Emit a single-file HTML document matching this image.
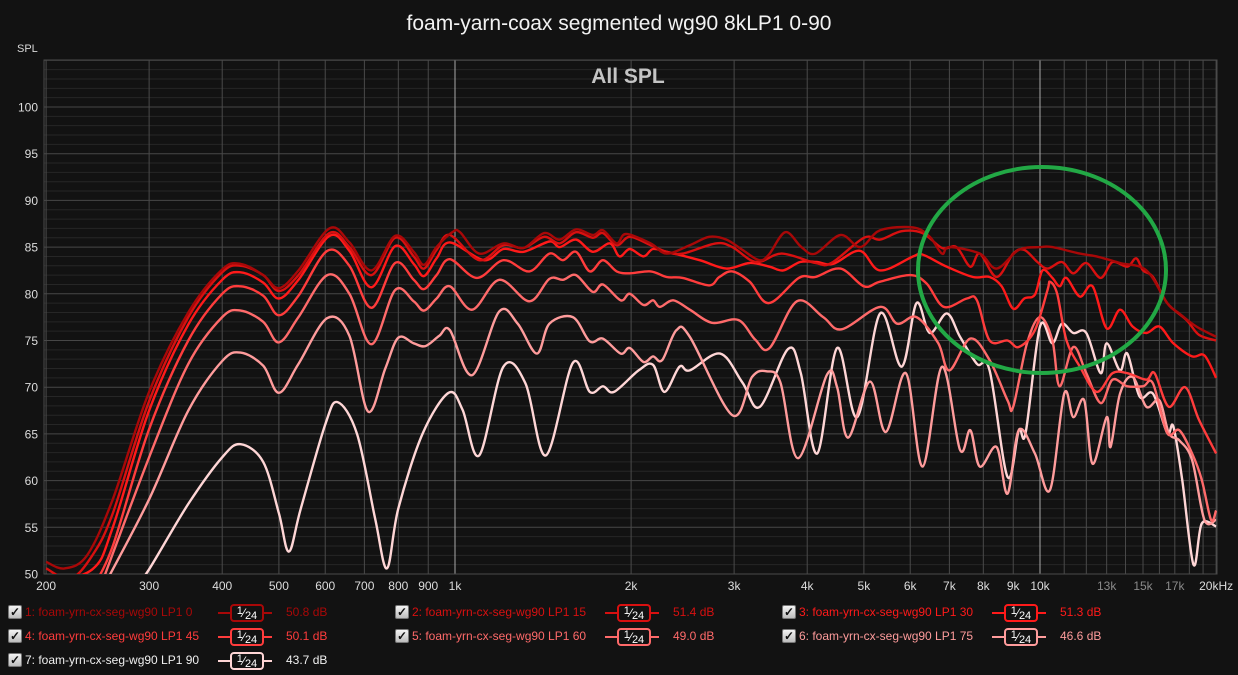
<!DOCTYPE html>
<html><head><meta charset="utf-8">
<style>
html,body{margin:0;padding:0;background:#121212;width:1238px;height:675px;overflow:hidden;font-family:"Liberation Sans",sans-serif}
svg{position:absolute;left:0;top:0}
.leg{position:absolute;font-size:12px;height:16px;line-height:16px;white-space:nowrap}
.cb{position:absolute;width:12px;height:12px;background:linear-gradient(#f4f4f4,#bdbdbd);border:1px solid #777;border-radius:2px;color:#111;font-size:12px;line-height:12px;text-align:center;font-weight:bold}
.oct{position:absolute;height:14px;width:30px;border:2px solid;border-radius:4px;background:#121212;font-size:12px;line-height:14px;text-align:center;color:#fff}
.oln{position:absolute;height:2px;width:54px}
</style></head><body>
<svg id="chart" width="1238" height="675"></svg>
<div id="legend"></div>
<script>
const xTickFreqs=[200,300,400,500,600,700,800,900,1000,2000,3000,4000,5000,6000,7000,8000,9000,10000,13000,15000,17000,20000];
const xTickLabels=["200","300","400","500","600","700","800","900","1k","2k","3k","4k","5k","6k","7k","8k","9k","10k","13k","15k","17k","20kHz"];
const yTicks=[50,55,60,65,70,75,80,85,90,95,100];
const seriesNames=["1: foam-yrn-cx-seg-wg90 LP1 0","2: foam-yrn-cx-seg-wg90 LP1 15","3: foam-yrn-cx-seg-wg90 LP1 30","4: foam-yrn-cx-seg-wg90 LP1 45","5: foam-yrn-cx-seg-wg90 LP1 60","6: foam-yrn-cx-seg-wg90 LP1 75","7: foam-yrn-cx-seg-wg90 LP1 90"];
const seriesLevels=["50.8 dB","51.4 dB","51.3 dB","50.1 dB","49.0 dB","46.6 dB","43.7 dB"];
const seriesColors=["#a80808","#d81010","#ff1a1a","#ff3c3c","#ff6a6a","#ff9c9c","#ffd6d6"];
const s1=[[200,51.3],[215,50.6],[235,52],[260,58],[300,69.5],[350,78],[400,82.6],[430,83.2],[470,82],[500,80.6],[540,82.5],[610,87],[660,85.5],[720,82.5],[790,86.2],[850,84.5],[885,83.1],[930,85],[990,86.6],[1020,86.6],[1100,84.3],[1210,85.4],[1310,84.9],[1420,86.5],[1510,85.8],[1610,86.9],[1720,86.3],[1790,86.8],[1890,85.4],[1960,86.4],[2160,85.4],[2300,84.3],[2520,85.2],[2720,86.1],[2910,85.8],[3100,84.7],[3310,83.6],[3440,84.2],[3670,86.6],[3910,85],[4130,84.3],[4560,86.3],[4930,85],[5330,86.8],[6070,87.1],[6480,86.1],[6800,84.3],[7000,85],[7890,84.3],[8430,82.7],[9200,84.7],[10000,85],[10500,85],[11700,84.3],[12500,84],[13700,83.3],[15200,82.5],[16500,79],[17300,77.9],[18500,76.5],[20000,75.4]];
const s2=[[200,50.6],[220,49.5],[240,52],[260,56.5],[300,68.5],[350,77.5],[400,82.3],[430,83],[470,82],[500,80.3],[540,82],[610,86.5],[660,85],[720,82],[790,86],[850,84],[885,82.7],[930,84.7],[980,86.3],[1100,83.6],[1210,85.2],[1310,84.9],[1420,86.1],[1510,85.4],[1610,86.6],[1720,86],[1790,86.5],[1890,85.2],[1990,86.1],[2160,85.2],[2300,84.5],[2450,84.3],[2790,85.4],[2980,85],[3270,83.4],[3620,84.3],[4130,83.3],[4400,83.3],[5000,86],[5330,85.8],[5800,86.7],[6300,86.5],[6800,84.9],[7200,85],[7600,82.9],[7890,84.3],[8430,81.8],[9000,84.3],[9400,84.7],[9900,83.4],[10300,82.7],[10900,83.4],[11400,82.2],[12000,83.3],[12700,81.7],[13300,83.4],[14100,82.9],[14600,83.8],[15000,82.5],[15600,81.8],[16500,79],[17800,77.2],[18700,75.6],[20000,75]];
const s3=[[200,49],[240,50.5],[260,55],[300,67.5],[350,76.7],[400,81.5],[430,82.3],[470,81.2],[500,79.5],[540,81.5],[610,86.2],[660,84.6],[720,80.7],[790,85.1],[850,83.2],[885,81.9],[930,83.8],[980,85.5],[1120,83.6],[1210,84.8],[1310,84.5],[1450,85.6],[1510,85],[1610,85.8],[1720,84.5],[1840,85.4],[1910,84],[1990,84.8],[2100,84],[2180,84.8],[2300,84.5],[2620,83.6],[2910,82.7],[3190,83.3],[3450,82.9],[3640,82.5],[3890,83.4],[4150,83.4],[4430,83.2],[4920,84.6],[5330,82.5],[6070,84],[6300,84.2],[6930,82.9],[7680,81.8],[8200,81.8],[8600,80.8],[9000,78.4],[9400,79.5],[9800,79.9],[10100,82.5],[10500,81.7],[10800,80.8],[11100,81.7],[11700,79.7],[12300,80.8],[13000,76.3],[13700,78.3],[14400,76.5],[15200,75.8],[16000,76.5],[16900,74.7],[18200,73.3],[19100,73.4],[20000,71]];
const s4=[[240,48.5],[260,53],[300,65.5],[350,75],[400,80],[430,80.8],[470,79.8],[500,77.7],[540,79.8],[605,84.6],[660,83],[720,78.5],[790,83.3],[850,81.5],[885,80.5],[930,82],[980,83.7],[1090,81.7],[1210,83.6],[1340,82.4],[1450,84.3],[1530,83.6],[1610,84.5],[1700,82.4],[1790,83.6],[1890,82.4],[1990,82.2],[2160,82.4],[2300,81.8],[2450,81.7],[2720,80.9],[2830,81.8],[2980,82.4],[3190,81.3],[3440,79],[3870,81.7],[4130,81.8],[4560,82.7],[5000,80.8],[5330,81.3],[6000,82],[6400,81.1],[6850,78.6],[7500,79.5],[7800,79.3],[8200,75],[8800,75],[9200,74.3],[9800,76.1],[10300,80.4],[10400,81.3],[10700,80],[11100,75],[11700,72.2],[12500,69.5],[13300,71.5],[14100,71.5],[15200,70.8],[15700,71.5],[16600,67.9],[17700,70],[18700,66.5],[20000,62.9]];
const s5=[[250,49.3],[300,62.5],[350,72.5],[400,77.5],[430,78.2],[470,77],[500,74.8],[540,77.5],[605,82],[660,80],[720,74.6],[790,80.4],[850,79.2],[885,78.2],[930,79.5],[980,80.8],[1070,78.3],[1190,81.5],[1340,79.2],[1450,81.6],[1530,81.5],[1610,82],[1720,80.2],[1790,81],[1920,79.3],[1990,80],[2100,78.8],[2180,79.3],[2240,78.6],[2360,79.3],[2520,78.3],[2750,76.9],[3050,77.2],[3260,75.1],[3450,74.2],[3840,79.2],[4260,77.5],[4580,76.2],[5330,78.6],[5700,76.8],[6150,77.5],[6700,74.7],[7000,71.8],[7600,75.2],[8200,72.9],[8800,68.6],[9000,67.9],[9500,74.7],[10000,77.5],[10500,75],[10800,70.1],[11400,74.3],[12000,71.5],[12700,68.3],[13300,70.8],[14100,70.1],[15000,70.1],[15600,70.4],[16500,65.1],[17300,65.4],[18200,62.9],[18900,60.1],[19600,55.8],[20000,56.8]];
const s6=[[255,49.5],[300,58],[350,67.5],[400,72.8],[430,73.7],[470,72.3],[500,69.4],[540,72.5],[605,77.4],[660,75.5],[710,67.4],[760,72],[800,75.3],[850,74.7],[890,74.4],[940,75.5],[980,76.1],[1070,71.3],[1190,78.1],[1280,76.8],[1380,73.6],[1450,76.8],[1590,77.5],[1700,74.9],[1790,75.2],[1920,73.6],[1990,74.2],[2100,72.7],[2180,73.3],[2260,72.9],[2390,76.1],[2520,75.4],[2980,67],[3220,71.1],[3410,71.7],[3600,70.5],[3860,62.4],[4320,71.3],[4500,70],[4700,64.6],[5120,70.6],[5450,65.2],[5900,71.5],[6300,61.5],[6800,72.2],[7300,63.3],[7600,65.4],[7890,61.5],[8430,63.6],[8800,58.6],[9200,65.4],[9800,62.9],[10400,59],[11000,69.3],[11400,66.8],[11900,68.6],[12300,61.8],[13000,66.8],[13200,63.6],[13700,69.3],[14400,71.1],[15200,67.9],[16000,68.6],[16600,65.1],[17300,64.3],[18200,62.2],[19100,55.8],[20000,55.8]];
const s7=[[290,49.5],[300,50.5],[350,57.5],[400,62.5],[430,63.9],[470,62],[500,56.5],[520,52.4],[545,57],[600,66],[630,68.4],[680,65],[730,56],[765,50.6],[800,57],[880,65],[975,69.4],[1030,67.6],[1100,62.7],[1210,72.2],[1320,70.4],[1430,62.7],[1590,72.6],[1700,69.5],[1790,70.1],[1870,69.5],[2060,71.8],[2180,72.4],[2280,69.5],[2420,72.2],[2520,71.8],[2840,73.6],[3100,70.5],[3320,67.9],[3710,74.1],[3900,71.5],[4160,62.9],[4500,74.2],[4870,66.8],[5330,77.9],[5800,72.2],[6150,79],[6480,75.8],[6930,77.9],[7300,75.4],[7800,72.5],[8200,71.8],[8800,60.4],[9200,65.4],[9450,65.1],[10000,76.5],[10500,74.7],[10900,76.8],[11400,75.8],[12000,75.8],[12700,71.5],[13000,74.7],[13700,71.8],[14100,73.6],[14800,69],[15600,69.3],[16500,65.1],[16900,65.8],[17500,60.1],[18300,51],[18900,55.4],[20000,55.1]];
const allSeries=[s1,s2,s3,s4,s5,s6,s7];

const NS="http://www.w3.org/2000/svg";
const L=44,R=1217,T=60,B=574;
function xs(f){return 455+585*Math.log10(f/1000);}
function ys(d){return 574-(d-50)*9.34;}
const svg=document.getElementById('chart');
function mk(tag,attrs,parent){const e=document.createElementNS(NS,tag);for(const k in attrs)e.setAttribute(k,attrs[k]);(parent||svg).appendChild(e);return e;}

// title
const title=mk('text',{x:619,y:30,'text-anchor':'middle','font-size':21,fill:'#f2f2f2','font-family':'Liberation Sans, sans-serif'});
title.textContent='foam-yarn-coax segmented wg90 8kLP1 0-90';


const spl=mk('text',{x:17,y:52,'font-size':11,fill:'#d8d8d8','font-family':'Liberation Sans, sans-serif'});
spl.textContent='SPL';



const grid=mk('g',{});


for(let d=50;d<=105;d++){
  const y=ys(d);const major=d%5===0;
  mk('line',{x1:L,x2:R,y1:y,y2:y,stroke:major?'#474747':'#262626','stroke-width':1},grid);
}
const vfreqs=[];
for(let f=200;f<1000;f+=100)vfreqs.push(f);
for(let f=1000;f<10000;f+=1000)vfreqs.push(f);
for(let f=10000;f<=20000;f+=1000)vfreqs.push(f);
vfreqs.forEach(f=>{const x=xs(f);const br=(f===1000||f===10000);
  mk('line',{x1:x,x2:x,y1:T,y2:B,stroke:br?'#a8a8a8':'#4a4a4a','stroke-width':1},grid);});
mk('rect',{x:L,y:T,width:R-L,height:B-T,fill:'none',stroke:'#4a4a4a','stroke-width':1},grid);

yTicks.forEach(d=>{const t=mk('text',{x:38,y:ys(d)+4.5,'text-anchor':'end','font-size':12,fill:'#dcdcdc','font-family':'Liberation Sans, sans-serif'});
  t.textContent=d;
  
  });
xTickFreqs.forEach((f,i)=>{const dim=(f===13000||f===15000||f===17000);
  const t=mk('text',{x:xs(f),y:590,'text-anchor':'middle','font-size':12,fill:dim?'#8a8a8a':'#dcdcdc','font-family':'Liberation Sans, sans-serif'});
  t.textContent=xTickLabels[i];
  
  });

const allspl=mk('text',{x:628,y:83,'text-anchor':'middle','font-size':21,'font-weight':'bold',fill:'#c4c4c4','font-family':'Liberation Sans, sans-serif'});
allspl.textContent='All SPL';



mk('clipPath',{id:'pc'},mk('defs',{})).appendChild(Object.assign(document.createElementNS(NS,'rect'),{}));
const cr=document.querySelector('#pc rect');cr.setAttribute('x',L);cr.setAttribute('y',T);cr.setAttribute('width',R-L);cr.setAttribute('height',B-T);

function pathFor(data){
  const p=data.map(a=>[xs(a[0]),ys(a[1])]);
  let d='M'+p[0][0].toFixed(1)+','+p[0][1].toFixed(1);
  for(let i=0;i<p.length-1;i++){
    const p0=p[i-1]||p[i],p1=p[i],p2=p[i+1],p3=p[i+2]||p2;
    const c1=[p1[0]+(p2[0]-p0[0])/6,p1[1]+(p2[1]-p0[1])/6];
    const c2=[p2[0]-(p3[0]-p1[0])/6,p2[1]-(p3[1]-p1[1])/6];
    d+='C'+c1[0].toFixed(1)+','+c1[1].toFixed(1)+' '+c2[0].toFixed(1)+','+c2[1].toFixed(1)+' '+p2[0].toFixed(1)+','+p2[1].toFixed(1);
  }
  return d;
}
const lines=mk('g',{'clip-path':'url(#pc)'});


for(let i=allSeries.length-1;i>=0;i--){
  const el=mk('path',{d:pathFor(allSeries[i]),fill:'none',stroke:seriesColors[i],'stroke-width':2.4,'stroke-linejoin':'round'},lines);
  
  
}
const ell=mk('ellipse',{cx:1042,cy:270,rx:124,ry:103,fill:'none',stroke:'#22a845','stroke-width':4});



// legend
const leg=document.getElementById('legend');
const cols=[8,395,782],rows=[604,628,652];
seriesNames.forEach((n,i)=>{
  const cx=cols[i%3],ry=rows[Math.floor(i/3)];
  const item=document.createElement('div');
  
  
  item.style.cssText='position:absolute;left:'+cx+'px;top:'+ry+'px;width:380px;height:18px';
  const cb=document.createElement('div');cb.className='cb';cb.textContent='✓';cb.style.left='0px';cb.style.top='1px';
  
  
  item.appendChild(cb);
  const t=document.createElement('div');t.className='leg';t.style.left='17px';t.style.top='0px';t.style.color=i===6?'#f0f0f0':seriesColors[i];t.textContent=n;
  
  
  item.appendChild(t);
  const ln=document.createElement('div');ln.className='oln';ln.style.left='210px';ln.style.top='8px';ln.style.background=seriesColors[i];
  item.appendChild(ln);
  const ob=document.createElement('div');ob.className='oct';ob.style.left='222px';ob.style.top='0px';ob.style.borderColor=seriesColors[i];
  ob.innerHTML='<span style="font-size:11px;position:relative;top:-3px">1</span>⁄<span style="font-size:11px;position:relative;top:2px">24</span>';
  
  
  item.appendChild(ob);
  const v=document.createElement('div');v.className='leg';v.style.left='278px';v.style.top='0px';v.style.color=i===6?'#f0f0f0':seriesColors[i];v.textContent=seriesLevels[i];
  
  
  item.appendChild(v);
  leg.appendChild(item);
});
</script>
</body></html>
